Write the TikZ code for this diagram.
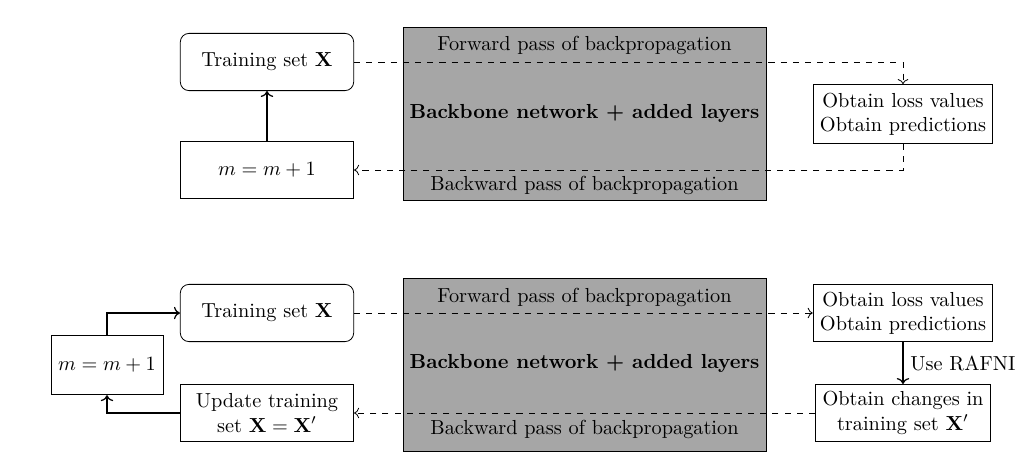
\documentclass[tikz,border=0pt]{standalone}
\usepackage{amsmath,amssymb}
\usetikzlibrary{arrows.meta,positioning,calc}

\begin{document}
\begin{tikzpicture}[x=0.0173cm, y=-0.0173cm,
    block/.style={rectangle, draw, fill=white, minimum height=0.99cm, minimum width=3.0cm, align=center},
    rblock/.style={block, rounded corners=1.5mm},
    net/.style={rectangle, draw, fill=gray!70, minimum width=6.28cm, minimum height=2.98cm},
    arrow/.style={->, semithick},
    flow/.style={->, dashed},
]
\useasboundingbox (0,0) rectangle (1024,468);
% top: plain training
\node[net] (net1) at (584.5,114) {};
\node (fwd1) at (584.5,45) {Forward pass of backpropagation};
\node (bwd1) at (584.5,185) {Backward pass of backpropagation};
\node (body1) at (584.5,113) {\textbf{Backbone network + added layers}};
\node[rblock] (train1) at (267,62) {Training set $\mathbf{X}$};
\node[block] (inc1) at (267,170) {$m=m+1$};
\node[block, minimum width=3.11cm, minimum height=1.02cm] (loss1) at (903,114) {Obtain loss values\\Obtain predictions};
\draw[flow] (train1.east) -| (loss1.north);
\draw[flow] (loss1.south) |- (inc1.east);
\draw[arrow] (inc1) -- (train1);
% bottom: training with RAFNI
\node[net] (net2) at (584.5,365) {};
\node (fwd2) at (584.5,297) {Forward pass of backpropagation};
\node (bwd2) at (584.5,429) {Backward pass of backpropagation};
\node (body2) at (584.5,363) {\textbf{Backbone network + added layers}};
\node[rblock] (train2) at (267,313) {Training set $\mathbf{X}$};
\node[block, minimum width=3.11cm, minimum height=0.99cm] (loss2) at (903,313) {Obtain loss values\\Obtain predictions};
\node[block, minimum width=3.03cm] (change2) at (903,413) {Obtain changes in\\training set $\mathbf{X}'$};
\node[block] (update2) at (267,413) {Update training\\set $\mathbf{X}=\mathbf{X}'$};
\node[block, minimum width=1.94cm, minimum height=1.03cm] (inc2) at (107,365) {$m=m+1$};
\draw[flow] (train2) -- (loss2);
\draw[arrow] (loss2) -- node[right] {Use RAFNI} (change2);
\draw[flow] (change2) -- (update2);
\draw[arrow] (inc2.north) |- (train2.west);
\draw[arrow] (update2.west) -| (inc2.south);
\end{tikzpicture}
\end{document}
